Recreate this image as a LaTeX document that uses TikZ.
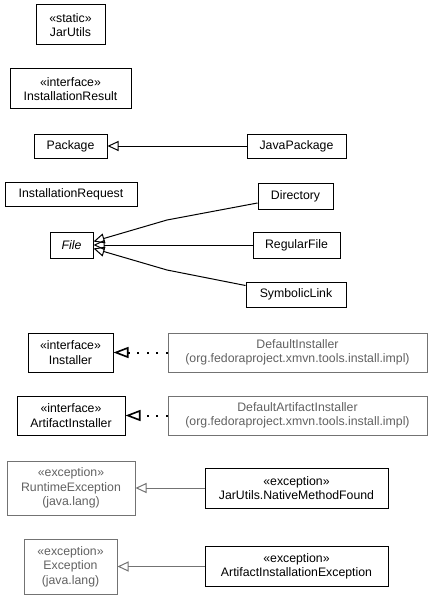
\documentclass[tikz,border=0pt]{standalone}
\usepackage{fontspec}
\setmainfont{Liberation Sans}
\newcommand{\stereo}[1]{«#1»}
\newcommand{\umlfont}{\fontsize{12.3}{14.4}\selectfont}
\usetikzlibrary{arrows.meta}
\usetikzlibrary{positioning}

\begin{document}
\begin{tikzpicture}[
  x=1pt, y=-1pt, line width=1pt,
  cls/.style={rectangle,draw,inner sep=0pt,font=\umlfont,align=center},
  ext/.style={cls,draw=black!55,text=black!62},
  inh/.style={-{Triangle[open,length=11pt,width=10pt]}},
  impl/.style={-{Triangle[open,length=15pt,width=11pt,line width=1.6pt]},line width=2pt,dash pattern=on 2pt off 7.5pt},
  extinh/.style={inh,draw=black!55}
]
\useasboundingbox (0,0) rectangle (431,599);

% --- Left column ---
\node[cls,minimum width=69pt,minimum height=40pt]  (jarutils)     at (70.5,25)  {\stereo{static}\\JarUtils};
\node[cls,minimum width=121pt,minimum height=40pt] (instresult)   at (70.5,89)  {\stereo{interface}\\InstallationResult};
\node[cls,minimum width=73pt,minimum height=24pt]  (package)      at (70.5,146) {Package};
\node[cls,minimum width=132pt,minimum height=24pt] (instrequest)  at (71,194)   {InstallationRequest};
\node[cls,minimum width=43pt,minimum height=26pt]  (file)         at (71.5,245) {\itshape File};
\node[cls,minimum width=85pt,minimum height=39pt]  (installer)    at (70.5,352.5) {\stereo{interface}\\Installer};
\node[cls,minimum width=108pt,minimum height=39pt] (artinstaller) at (71,415.5) {\stereo{interface}\\ArtifactInstaller};
\node[ext,minimum width=128pt,minimum height=54pt] (runtimeexc)   at (71,488)   {\stereo{exception}\\RuntimeException\\(java.lang)};
\node[ext,minimum width=93pt,minimum height=55pt]  (exception)    at (70.5,566.5) {\stereo{exception}\\Exception\\(java.lang)};

% --- Right column ---
\node[cls,minimum width=99pt,minimum height=24pt,right=139pt of package] (javapkg) {JavaPackage};
\node[cls,minimum width=75pt,minimum height=26pt]  (directory) at (295.5,196) {Directory};
\node[cls,minimum width=87pt,minimum height=26pt,right=159pt of file] (regularfile) {RegularFile};
\node[cls,minimum width=100pt,minimum height=25pt] (symlink)   at (296,294.5) {SymbolicLink};
\node[ext,minimum width=259pt,minimum height=39pt,right=54pt of installer] (definstaller)
  {DefaultInstaller\\(org.fedoraproject.xmvn.tools.install.impl)};
\node[ext,minimum width=259pt,minimum height=39pt,right=42pt of artinstaller] (defartinstaller)
  {DefaultArtifactInstaller\\(org.fedoraproject.xmvn.tools.install.impl)};
\node[cls,minimum width=183pt,minimum height=40pt,right=69pt of runtimeexc] (nativefound)
  {\stereo{exception}\\JarUtils.NativeMethodFound};
\node[cls,minimum width=183pt,minimum height=40pt,right=87pt of exception] (artinstexc)
  {\stereo{exception}\\ArtifactInstallationException};

% --- Generalizations ---
\draw[inh] (javapkg) -- (package);
\draw[inh] ([yshift=-7pt]directory.west) -- (167,220) -- ([yshift=3.5pt]file.east);
\draw[inh] (regularfile) -- (file);
\draw[inh] ([yshift=9pt]symlink.west) -- (167,270) -- ([yshift=-3.5pt]file.east);
\draw[extinh] (nativefound) -- (runtimeexc);
\draw[extinh] (artinstexc) -- (exception);

% --- Realizations ---
\draw[impl] (definstaller) -- (installer);
\draw[impl] (defartinstaller) -- (artinstaller);

\end{tikzpicture}
\end{document}
